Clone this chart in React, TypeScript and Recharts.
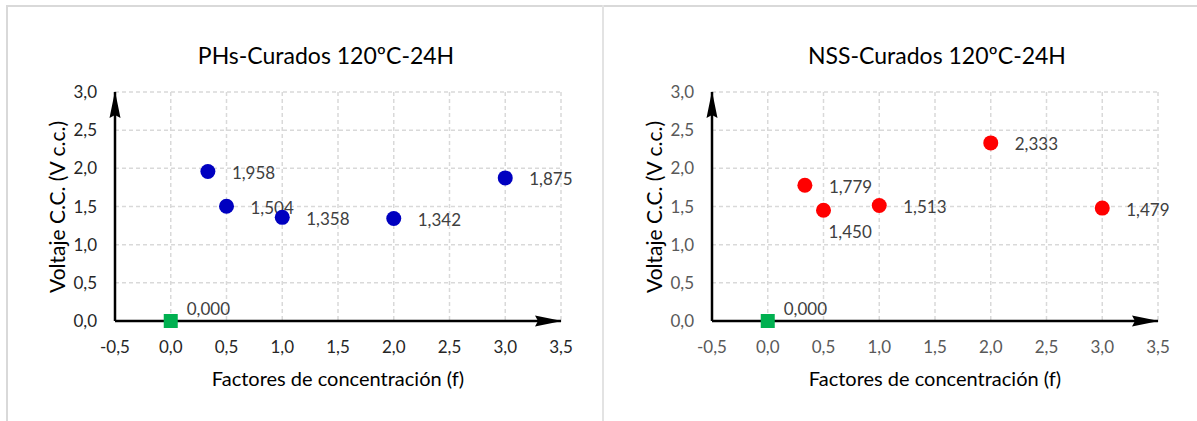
import { ScatterChart, Scatter, XAxis, YAxis, CartesianGrid } from "recharts";

// ejes
const xTicks = [-0.5, 0, 0.5, 1, 1.5, 2, 2.5, 3, 3.5];
const yTicks = [0, 0.5, 1, 1.5, 2, 2.5, 3];

// factores de concentración (f)
const factores = [0.333, 0.5, 1, 2, 3];
// voltaje C.C. medido
const phsVoltaje = [1.958, 1.504, 1.358, 1.342, 1.875];
const nssVoltaje = [1.779, 1.45, 1.513, 2.333, 1.479];
// blanco (f = 0)
const blancoFactor = [0];
const blancoVoltaje = [0];

const FONT = "Lato, 'Open Sans', sans-serif";

const fmt1 = (v: number) => v.toFixed(1).replace(".", ",");
const fmt3 = (v: number) => v.toFixed(3).replace(".", ",");

const toPoints = (xs: number[], ys: number[]) => xs.map((x, i) => ({ x, y: ys[i] }));

interface PanelProps {
  left: number;
  title: string;
  titleX: number;
  color: string;
  values: number[];
  tickColor: string;
  belowIndex?: number;
}

const Panel = ({ left, title, titleX, color, values, tickColor, belowIndex }: PanelProps) => {
  const points = toPoints(factores, values);
  const blank = toPoints(blancoFactor, blancoVoltaje);

  const circle = (p: any) => {
    const below = p.index === belowIndex;
    return (
      <g>
        <circle cx={p.cx} cy={p.cy} r={7.5} fill={color} />
        <text
          x={p.cx + (below ? 5 : 24)}
          y={p.cy + (below ? 21 : 1)}
          dominantBaseline="central"
          fontSize={17}
          fontFamily={FONT}
          fill="#404040"
        >
          {fmt3(p.payload.y)}
        </text>
      </g>
    );
  };

  const square = (p: any) => (
    <g>
      <rect x={p.cx - 7} y={p.cy - 7} width={14} height={14} fill="#00B050" />
      <text x={p.cx + 16} y={p.cy - 13} dominantBaseline="central" fontSize={17} fontFamily={FONT} fill="#404040">
        {fmt3(p.payload.y)}
      </text>
    </g>
  );

  return (
    <div style={{ position: "absolute", left, top: 0, width: 600, height: 421 }}>
      <div
        style={{
          position: "absolute",
          left: titleX - left,
          top: 55,
          transform: "translate(-50%, -50%)",
          fontFamily: FONT,
          fontSize: 23,
          color: "#000",
          whiteSpace: "nowrap",
        }}
      >
        {title}
      </div>
      <div
        style={{
          position: "absolute",
          left: 56,
          top: 207,
          transform: "translate(-50%, -50%) rotate(-90deg)",
          fontFamily: FONT,
          fontSize: 21,
          color: "#000",
          whiteSpace: "nowrap",
        }}
      >
        Voltaje C.C. (V c.c.)
      </div>
      <div
        style={{
          position: "absolute",
          left: 338,
          top: 378,
          transform: "translate(-50%, -50%)",
          fontFamily: FONT,
          fontSize: 20,
          color: "#000",
          whiteSpace: "nowrap",
        }}
      >
        Factores de concentración (f)
      </div>
      <ScatterChart width={600} height={421} margin={{ top: 92, right: 39, left: 55, bottom: 70 }}>
        <CartesianGrid strokeDasharray="4 3" stroke="#d9d9d9" strokeWidth={1.5} />
        <XAxis
          type="number"
          dataKey="x"
          domain={[-0.5, 3.5]}
          ticks={xTicks}
          interval={0}
          tickLine={false}
          tickMargin={14}
          height={30}
          tickFormatter={fmt1}
          tick={{ fill: tickColor, fontSize: 17, fontFamily: FONT }}
          axisLine={{ stroke: "#000", strokeWidth: 2.5, markerEnd: "url(#axisArrow)" }}
        />
        <YAxis
          type="number"
          dataKey="y"
          domain={[0, 3]}
          ticks={yTicks}
          interval={0}
          tickLine={false}
          tickMargin={12}
          width={60}
          tickFormatter={fmt1}
          tick={{ fill: tickColor, fontSize: 17, fontFamily: FONT }}
          axisLine={{ stroke: "#000", strokeWidth: 2.5, markerStart: "url(#axisArrow)" }}
        />
        <Scatter data={points} fill={color} shape={circle} isAnimationActive={false} />
        <Scatter data={blank} fill="#00B050" shape={square} isAnimationActive={false} />
      </ScatterChart>
    </div>
  );
};

export default function App() {
  return (
    <div style={{ position: "absolute", left: 0, top: 0, width: 1197, height: 421, background: "#fff", overflow: "hidden" }}>
      <svg width={0} height={0} style={{ position: "absolute" }}>
        <defs>
          <marker
            id="axisArrow"
            markerWidth={27}
            markerHeight={13}
            refX={26}
            refY={6.5}
            orient="auto-start-reverse"
            markerUnits="userSpaceOnUse"
          >
            <path d="M0,1 L27,6.5 L0,12 L3,6.5 z" fill="#000" />
          </marker>
        </defs>
      </svg>
      <div
        style={{
          position: "absolute",
          left: 6,
          top: 5,
          width: 1195,
          height: 430,
          borderTop: "2px solid #d9d9d9",
          borderLeft: "2px solid #d9d9d9",
        }}
      />
      <div style={{ position: "absolute", left: 602, top: 5, width: 2, height: 416, background: "#e3e3e3" }} />
      <Panel left={0} title="PHs-Curados 120ºC-24H" titleX={326} color="#0000C0" values={phsVoltaje} tickColor="#262626" />
      <Panel
        left={597}
        title="NSS-Curados 120ºC-24H"
        titleX={937}
        color="#FF0000"
        values={nssVoltaje}
        tickColor="#595959"
        belowIndex={1}
      />
    </div>
  );
}
